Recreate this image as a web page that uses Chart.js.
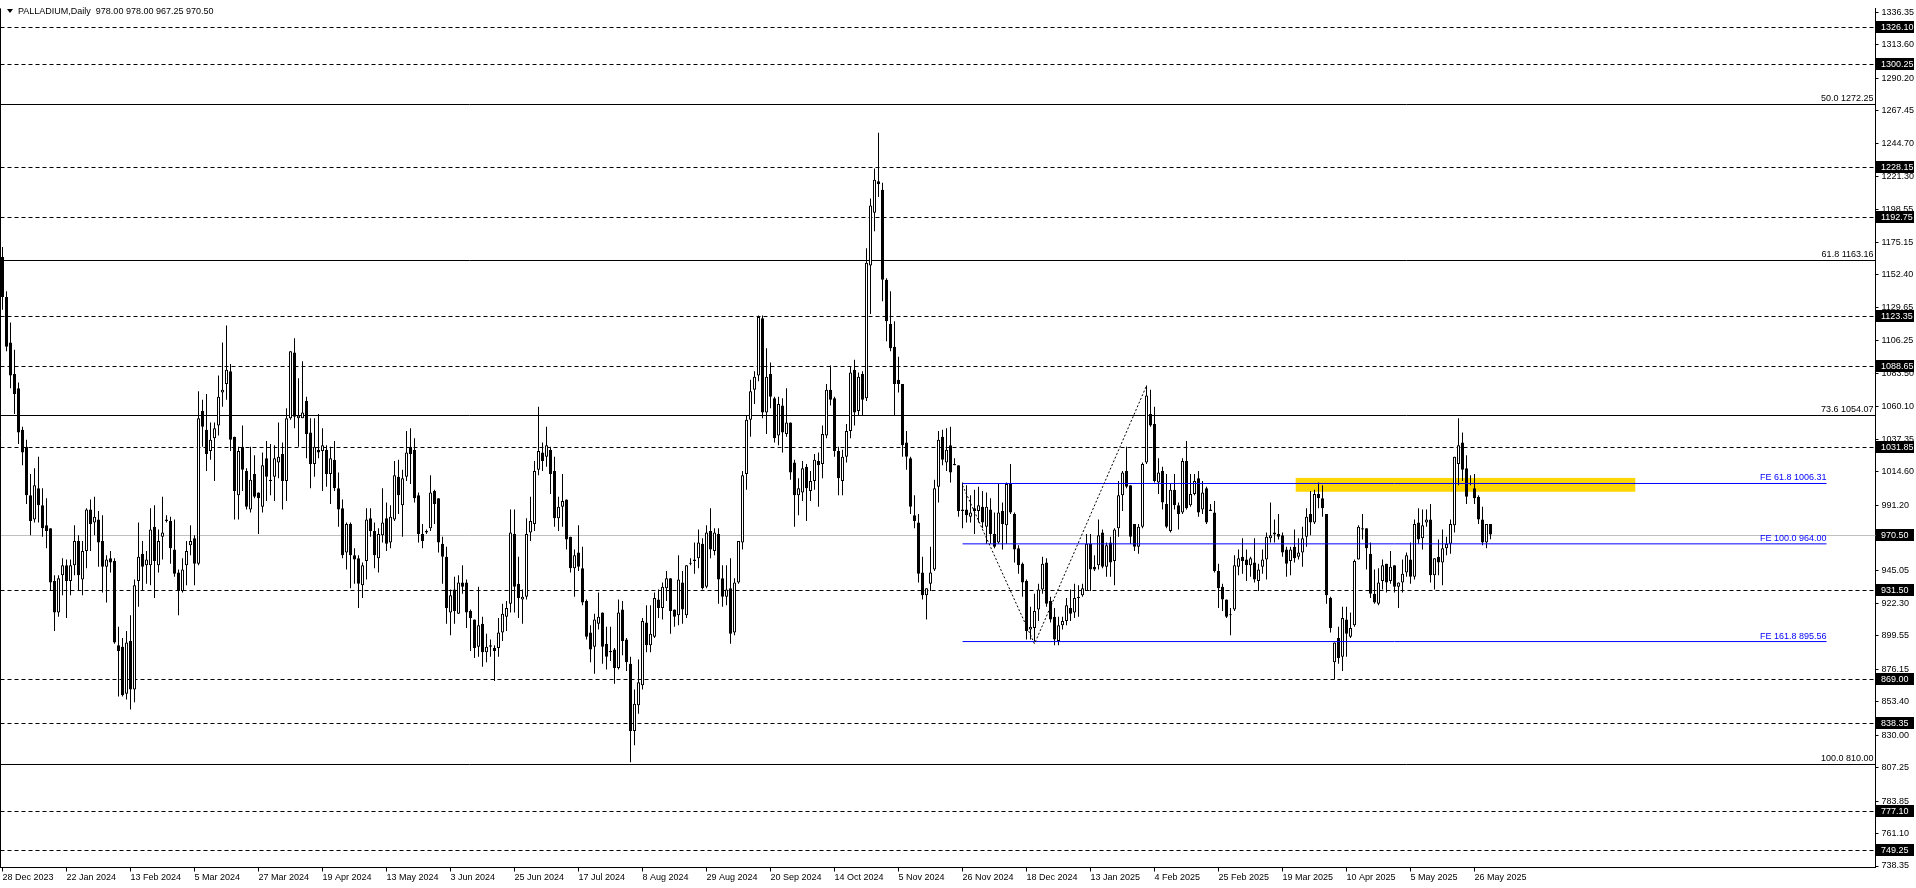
<!DOCTYPE html>
<html>
<head>
<meta charset="utf-8">
<title>PALLADIUM,Daily</title>
<script src="https://cdn.jsdelivr.net/npm/chart.js@4.4.1/dist/chart.umd.min.js"></script>
<style>
  html, body { margin: 0; padding: 0; background: #ffffff; overflow: hidden; }
  #wrap { width: 1916px; height: 888px; }
</style>
</head>
<body>
<div id="wrap"><canvas id="chart" width="1916" height="888"></canvas></div>
<script>
const symbol = 'PALLADIUM,Daily';

// one label every 16 daily bars, the first one sits on bar 0
const dateLabels = ['28 Dec 2023', '22 Jan 2024', '13 Feb 2024', '5 Mar 2024', '27 Mar 2024', '19 Apr 2024',
    '13 May 2024', '3 Jun 2024', '25 Jun 2024', '17 Jul 2024', '8 Aug 2024', '29 Aug 2024', '20 Sep 2024',
    '14 Oct 2024', '5 Nov 2024', '26 Nov 2024', '18 Dec 2024', '13 Jan 2025', '4 Feb 2025', '25 Feb 2025',
    '19 Mar 2025', '10 Apr 2025', '5 May 2025', '26 May 2025'];
const barsPerLabel = 16;

const yTickValues = [1336.35, 1313.60, 1290.20, 1267.45, 1244.70, 1221.30, 1198.55, 1175.15, 1152.40, 1129.65,
    1106.25, 1083.50, 1060.10, 1037.35, 1014.60, 991.20, 968.45, 945.05, 922.30, 899.55, 876.15, 853.40,
    830.00, 807.25, 783.85, 761.10, 738.35];
const yMin = 737.3, yMax = 1339.1;
const xMin = -0.5, xMax = 468.25;

const opens = [
    1165,1137,1105,1083,1073,1044,1032,998,981,1003,
    991,977,975,938,916,942,949,938,949,966,
    939,959,988,979,981,966,948,954,952,893,
    892,859,896,862,938,957,949,949,976,949,
    969,981,980,960,944,931,949,963,968,950,
    1057,1044,1029,1038,1047,1070,1076,1085,1039,998,
    1032,1015,988,1013,1000,990,1024,1009,1011,1021,
    1027,1008,1052,1098,1052,1052,1064,1042,1020,1030,
    1029,1030,1013,1023,1003,989,958,978,956,954,
    935,952,982,973,954,970,982,965,981,1011,
    991,1011,1032,1030,998,971,973,975,1001,996,
    964,955,916,932,915,937,937,917,911,892,
    908,888,893,891,891,902,913,922,971,936,
    925,927,972,978,1016,1028,1025,1030,1015,982,
    990,995,969,947,958,947,924,902,892,908,
    916,894,889,890,877,918,897,880,833,851,
    865,909,893,899,925,919,933,940,918,914,
    937,914,950,953,954,964,934,973,959,971,
    940,927,933,902,937,965,1013,1051,1072,1082,
    1122,1056,1083,1066,1040,1061,1041,1049,1021,998,
    1000,1018,1001,1008,1022,1020,1040,1072,1066,1029,
    1008,1025,1043,1086,1057,1083,1066,1159,1196,1218,
    1212,1149,1118,1102,1079,1076,1035,1024,984,979,
    944,928,936,946,1004,1039,1021,1033,1020,1019,
    987,988,983,989,987,990,976,988,971,965,
    987,977,1006,985,961,950,938,904,905,918,
    932,951,924,913,896,907,910,919,916,926,
    928,931,964,948,949,972,948,965,952,975,
    998,1015,1005,978,962,976,1021,1055,1048,1007,
    1015,992,973,1002,991,986,1022,991,999,1010,
    988,1003,988,986,945,934,925,914,918,948,
    955,953,949,951,938,948,953,968,972,971,
    970,960,952,962,955,958,969,985,979,999,
    996,985,926,881,898,885,911,899,907,953,
    975,975,957,929,922,938,950,938,949,934,
    937,944,953,941,979,968,979,981,942,955,
    951,961,964,977,1020,1035,1017,1006.5,1003,997,
    981,965,978];
const highs = [
    1172,1141,1119,1100,1077,1046,1037,1013,1017,1025,
    1003,996,975,942,942,954,953,953,977,970,
    966,989,995,997,987,984,956,959,954,906,
    898,903,914,939,979,966,959,989,991,974,
    997,984,983,981,946,954,966,977,970,1071,
    1065,1069,1049,1049,1082,1105,1117,1090,1039,1032,
    1047,1017,1032,1026,1000,1028,1036,1034,1033,1049,
    1035,1059,1099,1108,1080,1092,1067,1052,1052,1055,
    1045,1033,1032,1036,1014,995,979,979,961,956,
    951,989,989,979,975,1003,993,991,1022,1023,
    1016,1043,1045,1038,1000,978,974,1012,1002,996,
    969,962,932,941,942,949,939,918,911,934,
    913,901,897,893,912,922,924,988,988,955,
    932,982,997,1022,1060,1035,1046,1032,1025,997,
    1013,995,969,960,977,962,925,907,915,930,
    916,906,906,891,925,924,898,885,862,883,
    912,921,921,930,932,937,945,940,918,956,
    945,949,954,965,974,968,977,989,975,975,
    949,949,954,940,966,1015,1054,1079,1085,1124,
    1124,1101,1091,1067,1067,1066,1073,1049,1023,1010,
    1022,1020,1015,1027,1028,1047,1076,1089,1067,1032,
    1030,1048,1088,1093,1084,1085,1171,1206,1227,1252,
    1217,1150,1141,1120,1095,1076,1043,1025,998,985,
    955,933,962,1009,1043,1044,1045,1046,1024,1019,
    1007,1005,998,1002,1004,1001,1000,996,986,1006,
    993,1007,1020,986,963,951,939,920,929,936,
    955,954,927,919,913,913,926,932,936,935,
    936,971,971,956,981,974,965,969,975,1008,
    1015,1032,1005,978,978,1021,1075,1072,1060,1024,
    1018,1013,1006,1013,993,1024,1036,1013,1013,1015,
    1008,1004,992,994,950,936,925,919,956,960,
    968,960,955,968,950,960,972,993,981,985,
    972,962,962,974,968,976,989,1001,1002,1007,
    1005,985,927,895,906,920,920,916,953,977,
    985,975,965,946,947,953,950,959,949,937,
    953,958,965,981,989,988,988,992,954,967,
    974,969,981,1025,1052,1042,1026,1012,1013,998,
    990,978,978];
const lows = [
    1128,1099,1073,1055,1034,1019,992,970,979,979,
    969,961,931,903,913,928,912,928,942,931,
    928,947,959,970,948,930,923,944,894,857,
    857,855,848,853,920,931,936,935,926,944,
    953,979,950,941,914,930,935,956,935,949,
    1032,1015,1023,1008,1040,1060,1065,1029,981,981,
    1001,988,986,996,971,986,994,998,994,1010,
    988,994,1051,1045,1032,1052,1024,1003,1011,1024,
    1001,1004,992,1001,976,954,946,933,936,919,
    926,939,969,947,944,965,959,961,980,985,
    969,1008,1006,993,965,961,971,973,978,958,
    936,908,900,908,915,929,905,889,884,885,
    878,881,885,868,885,896,903,916,916,912,
    908,925,966,973,1012,1015,1018,999,976,973,
    976,960,944,927,945,921,897,881,873,904,
    880,876,882,866,876,886,875,811,823,845,
    862,888,888,898,912,911,924,901,906,907,
    908,912,949,943,947,932,933,954,956,922,
    920,921,894,900,936,960,1002,1039,1062,1078,
    1052,1041,1059,1035,1033,1028,1039,1009,976,984,
    994,980,994,1002,990,1010,1038,1061,1025,998,
    998,1021,1038,1047,1054,1054,1064,1125,1183,1207,
    1134,1106,1099,1054,1070,1025,1016,985,975,937,
    925,911,931,945,993,1019,1015,1007,1019,983,
    975,979,979,971,979,975,964,964,961,964,
    960,964,985,951,943,927,897,897,896,910,
    929,920,909,893,893,904,907,910,912,913,
    927,931,931,945,946,947,941,941,935,969,
    987,1003,964,959,957,975,1020,1046,1007,999,
    988,975,972,988,974,985,988,990,998,983,
    985,978,987,944,919,917,912,900,917,942,
    943,938,941,937,931,943,939,965,965,967,
    955,941,942,951,953,948,962,970,978,989,
    983,922,902,869,880,875,885,898,906,953,
    967,946,926,922,921,932,930,936,930,919,
    930,941,936,939,964,960,976,937,932,942,
    935,956,957,972,1005,1008,992,1005,992,978,
    963,961,967.25];
const closes = [
    1137,1102,1082,1069,1042,1028,998,980,1005,991,
    975,973,937,916,940,949,938,949,966,942,
    959,988,978,983,965,948,953,951,895,889,
    858,895,862,935,955,948,953,974,952,966,
    972,980,961,943,931,946,959,966,950,1052,
    1046,1027,1037,1045,1067,1072,1086,1037,1001,1029,
    1016,990,1009,997,996,1019,1011,1008,1024,1025,
    1008,1052,1099,1053,1054,1056,1041,1020,1032,1028,
    1033,1013,1024,1003,988,956,978,956,953,936,
    949,981,973,956,971,979,964,983,1012,998,
    1010,1028,1027,996,971,966,972,1000,992,965,
    955,919,928,917,937,934,916,912,891,907,
    888,892,892,889,902,915,919,972,934,926,
    927,971,980,1015,1029,1022,1033,1013,982,990,
    994,967,947,956,948,923,899,890,911,913,
    892,885,888,877,916,896,881,833,852,867,
    910,893,901,926,919,934,940,917,913,939,
    918,949,950,952,965,933,972,960,972,939,
    927,932,901,937,966,1012,1051,1071,1081,1123,
    1056,1081,1067,1038,1062,1042,1049,1014,998,1003,
    1017,1003,1008,1023,1019,1041,1072,1065,1029,1010,
    1025,1043,1084,1056,1081,1065,1161,1201,1219,1216,
    1149,1120,1101,1076,1076,1033,1025,990,980,943,
    928,933,944,1003,1037,1023,1030,1014,1019,987,
    988,984,986,987,991,979,990,971,962,986,
    978,1006,986,960,949,937,903,906,917,932,
    950,922,911,897,907,910,921,915,926,927,
    933,964,946,946,970,948,963,951,974,998,
    1014,1004,969,962,976,1020,1068,1047,1008,1014,
    993,976,1002,991,985,1022,989,999,1008,986,
    1000,979,987,945,933,925,913,914.5,949,954,
    952,949,954,939,946,953,969,970,970.5,969,
    958,950,960,954,958,968,983,979,999,996,
    989,928,905,895,884,912,901,905,952,976,
    974,961,929,923,937,949,937,948,934,937,
    943,956,941,978,967,977,981,942,954,951,
    961,964,978,1025,1033,1016,997,1006,996,981,
    965,978,970.5];

// horizontal levels drawn on the chart
const dashedLevels = [1326.10, 1300.25, 1228.15, 1192.75, 1123.35, 1088.65, 1031.85, 931.50, 869.00, 838.35, 777.10, 749.25];
const fiboRatios = ['50.0', '61.8', '73.6', '100.0'];
const fiboPrices = [1272.25, 1163.16, 1054.07, 810.00];
const feRatios = ['61.8', '100.0', '161.8'];
const fePrices = [1006.31, 964.00, 895.56];
const feBars = [240, 456];
const swingBars = [240, 258, 286];
const swingPrices = [1005, 894, 1074.74];
const zoneBars = [323.3, 408.2];
const zonePrices = [1000.5, 1010.2];
const lastPrice = 970.50;

if (highs.length !== opens.length || lows.length !== opens.length || closes.length !== opens.length) {
    throw new Error('ohlc length mismatch ' + [opens.length, highs.length, lows.length, closes.length].join(','));
}

const FONT_FAMILY = "'Liberation Sans', Arial, sans-serif";
const axisFont = { family: FONT_FAMILY, size: 9 };

const bodyData = opens.map((o, i) => ({ x: i, y: [o, closes[i]] }));
const wickData = opens.map((o, i) => ({ x: i, y: [lows[i], highs[i]] }));
const bodyColors = opens.map((o, i) => closes[i] >= o ? '#ffffff' : '#000000');

const feDatasets = fePrices.map(p => ({
    type: 'line',
    data: [{ x: feBars[0], y: p }, { x: feBars[1], y: p }],
    borderColor: '#0000ff',
    borderWidth: 1,
    pointRadius: 0,
    order: 0
}));

const crisp = v => Math.round(v) + 0.5;

const overlay = {
    id: 'overlay',
    beforeDatasetsDraw(chart) {
        const { ctx, chartArea: a, scales: { x, y } } = chart;
        ctx.save();

        // yellow zone
        const zx1 = x.getPixelForValue(zoneBars[0]);
        const zx2 = x.getPixelForValue(zoneBars[1]);
        const zTop = y.getPixelForValue(zonePrices[1]);
        const zBot = y.getPixelForValue(zonePrices[0]);
        ctx.fillStyle = '#ffd700';
        ctx.fillRect(zx1, zTop, zx2 - zx1, zBot - zTop);

        ctx.lineWidth = 1;

        // bid line
        ctx.strokeStyle = '#c0c0c0';
        let py = crisp(y.getPixelForValue(lastPrice));
        ctx.beginPath(); ctx.moveTo(a.left, py); ctx.lineTo(a.right, py); ctx.stroke();

        // dashed support / resistance
        ctx.strokeStyle = '#000000';
        ctx.setLineDash([4, 3]);
        dashedLevels.forEach(p => {
            const ly = crisp(y.getPixelForValue(p));
            ctx.beginPath(); ctx.moveTo(a.left, ly); ctx.lineTo(a.right, ly); ctx.stroke();
        });
        ctx.setLineDash([]);

        // fibo retracement
        ctx.font = '9px ' + FONT_FAMILY;
        ctx.fillStyle = '#000000';
        ctx.textAlign = 'right';
        ctx.textBaseline = 'bottom';
        fiboPrices.forEach((p, k) => {
            const ly = crisp(y.getPixelForValue(p));
            ctx.beginPath(); ctx.moveTo(a.left, ly); ctx.lineTo(a.right, ly); ctx.stroke();
            ctx.fillText(fiboRatios[k] + ' ' + p.toFixed(2), a.right - 2, ly - 1);
        });
        ctx.restore();
    },
    afterDatasetsDraw(chart) {
        const { ctx, scales: { x, y } } = chart;
        ctx.save();
        ctx.font = '9px ' + FONT_FAMILY;
        ctx.fillStyle = '#0000ff';
        ctx.textAlign = 'right';
        ctx.textBaseline = 'bottom';
        const ex = x.getPixelForValue(feBars[1]);
        fePrices.forEach((p, k) => {
            const ly = crisp(y.getPixelForValue(p));
            ctx.fillText('FE ' + feRatios[k] + ' ' + p.toFixed(2), ex, ly - 1);
        });
        ctx.restore();
    },
    afterDraw(chart) {
        const { ctx, chartArea: a, scales: { y } } = chart;
        ctx.save();
        // price tags on the axis
        ctx.font = '9px ' + FONT_FAMILY;
        ctx.textAlign = 'left';
        ctx.textBaseline = 'middle';
        dashedLevels.concat([lastPrice]).forEach(p => {
            const ly = Math.round(y.getPixelForValue(p));
            ctx.fillStyle = '#000000';
            ctx.fillRect(a.right + 0.5, ly - 6, 38, 12);
            ctx.fillStyle = '#ffffff';
            ctx.fillText(p.toFixed(2), a.right + 5.5, ly + 0.5);
        });

        // left frame
        ctx.strokeStyle = '#000000';
        ctx.lineWidth = 1;
        ctx.beginPath(); ctx.moveTo(a.left, a.top); ctx.lineTo(a.left, a.bottom); ctx.stroke();

        // header
        const n = opens.length - 1;
        ctx.fillStyle = '#000000';
        ctx.beginPath(); ctx.moveTo(7, 9); ctx.lineTo(13, 9); ctx.lineTo(10, 13); ctx.closePath(); ctx.fill();
        ctx.textBaseline = 'middle';
        ctx.fillText(symbol + '  ' + [opens[n], highs[n], lows[n], closes[n]].map(v => v.toFixed(2)).join(' '), 18, 11.5);
        ctx.restore();
    }
};

new Chart(document.getElementById('chart'), {
    type: 'bar',
    data: {
        datasets: [
            {
                type: 'line',
                data: swingBars.map((b, k) => ({ x: b, y: swingPrices[k] })),
                borderColor: '#000000',
                borderWidth: 1,
                borderDash: [2, 2],
                pointRadius: 0,
                order: 0
            },
            ...feDatasets,
            {
                data: bodyData,
                backgroundColor: bodyColors,
                borderColor: '#000000',
                borderWidth: 1,
                borderSkipped: false,
                barThickness: 3,
                minBarLength: 1,
                inflateAmount: 0,
                grouped: false,
                order: 1
            },
            {
                data: wickData,
                backgroundColor: '#000000',
                borderWidth: 0,
                barThickness: 1,
                minBarLength: 1,
                inflateAmount: 0,
                grouped: false,
                order: 2
            }
        ]
    },
    options: {
        responsive: false,
        animation: false,
        events: [],
        layout: { padding: { left: 0.5, top: 0, right: 0, bottom: 0 } },
        plugins: {
            legend: { display: false },
            tooltip: { enabled: false }
        },
        scales: {
            x: {
                type: 'linear',
                min: xMin,
                max: xMax,
                offset: false,
                afterBuildTicks: s => { s.ticks = dateLabels.map((_, k) => ({ value: k * barsPerLabel })); },
                afterFit: s => { s.height = 20.5; },
                ticks: {
                    autoSkip: false,
                    maxRotation: 0,
                    minRotation: 0,
                    align: 'start',
                    padding: 1,
                    color: '#000000',
                    font: axisFont,
                    callback: v => dateLabels[v / barsPerLabel] || ''
                },
                grid: { drawOnChartArea: false, offset: false, tickLength: 4, color: '#000000' },
                border: { color: '#000000' }
            },
            y: {
                position: 'right',
                min: yMin,
                max: yMax,
                beginAtZero: false,
                afterBuildTicks: s => { s.ticks = yTickValues.map(v => ({ value: v })); },
                afterFit: s => { s.width = 40.5; },
                ticks: {
                    autoSkip: false,
                    padding: 3,
                    color: '#000000',
                    font: axisFont,
                    callback: v => Number(v).toFixed(2)
                },
                grid: { drawOnChartArea: false, tickLength: 3, color: '#000000' },
                border: { color: '#000000' }
            }
        }
    },
    plugins: [overlay]
});
</script>
</body>
</html>
